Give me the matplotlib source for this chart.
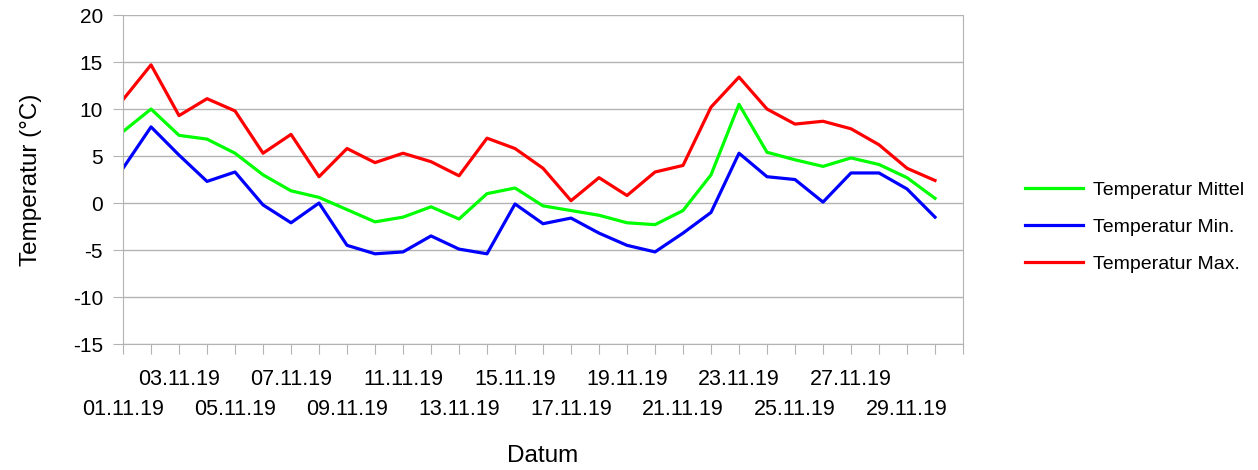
import matplotlib.pyplot as plt

plt.rcParams['font.family'] = ['Liberation Sans', 'DejaVu Sans']
plt.rcParams['axes.unicode_minus'] = False

datum = ["%02d.11.19" % d for d in range(1, 31)]

t_mittel = [7.6, 10.0, 7.2, 6.8, 5.3, 3.0, 1.3, 0.6, -0.7, -2.0,
            -1.5, -0.4, -1.7, 1.0, 1.6, -0.3, -0.8, -1.3, -2.1, -2.3,
            -0.8, 3.0, 10.5, 5.4, 4.6, 3.9, 4.8, 4.1, 2.7, 0.5]
t_min = [3.7, 8.1, 5.1, 2.3, 3.3, -0.2, -2.1, 0.0, -4.5, -5.4,
         -5.2, -3.5, -4.9, -5.4, -0.1, -2.2, -1.6, -3.2, -4.5, -5.2,
         -3.2, -1.0, 5.3, 2.8, 2.5, 0.1, 3.2, 3.2, 1.5, -1.5]
t_max = [11.0, 14.7, 9.3, 11.1, 9.8, 5.3, 7.3, 2.8, 5.8, 4.3,
         5.3, 4.4, 2.9, 6.9, 5.8, 3.7, 0.25, 2.7, 0.8, 3.3,
         4.0, 10.2, 13.4, 10.0, 8.4, 8.7, 7.9, 6.2, 3.7, 2.4]

fig = plt.figure(figsize=(12.58, 4.70), dpi=100)
ax = fig.add_axes([0.0978, 0.268, 0.6677, 0.700])

x = list(range(len(datum)))
ax.plot(x, t_mittel, color='#00ff00', lw=2.3, label='Temperatur Mittel')
ax.plot(x, t_min, color='#0000ff', lw=2.3, label='Temperatur Min.')
ax.plot(x, t_max, color='#ff0000', lw=2.3, label='Temperatur Max.')

ax.set_xlim(0, len(datum))
ax.set_ylim(-15, 20)
ax.set_yticks(range(-15, 21, 5))
ax.grid(axis='y', color='#b3b3b3', lw=1)
ax.set_axisbelow(True)

# tick marks every day, labels every second day in two staggered rows
upper = [i for i in x if i % 4 == 2]
lower = [i for i in x if i % 4 == 0]
ax.set_xticks(range(len(datum) + 1))
ax.set_xticklabels([datum[i] if i in upper else "" for i in range(len(datum) + 1)],
                   fontsize=15.5)
ax.tick_params(axis='x', length=7, color='#b3b3b3', pad=11)
ax.tick_params(axis='y', length=7, color='#b3b3b3', labelsize=15, pad=7.5)

ax2 = ax.secondary_xaxis('bottom')
ax2.set_xticks(lower)
ax2.set_xticklabels([datum[i] for i in lower], fontsize=15.5)
ax2.tick_params(axis='x', length=0, pad=39.5)
ax2.spines['bottom'].set_visible(False)

for s in ['left', 'right', 'bottom']:
    ax.spines[s].set_color('#b3b3b3')
ax.spines['top'].set_visible(False)

ax.set_ylabel('Temperatur (°C)', fontsize=17.5, labelpad=22)
ax2.set_xlabel('Datum', fontsize=17.5, labelpad=18)

ax.legend(loc='center left', bbox_to_anchor=(1.0525, 0.356), frameon=False,
          fontsize=14, handlelength=3.0, handletextpad=0.5, labelspacing=1.0)

fig.savefig('out.png')
